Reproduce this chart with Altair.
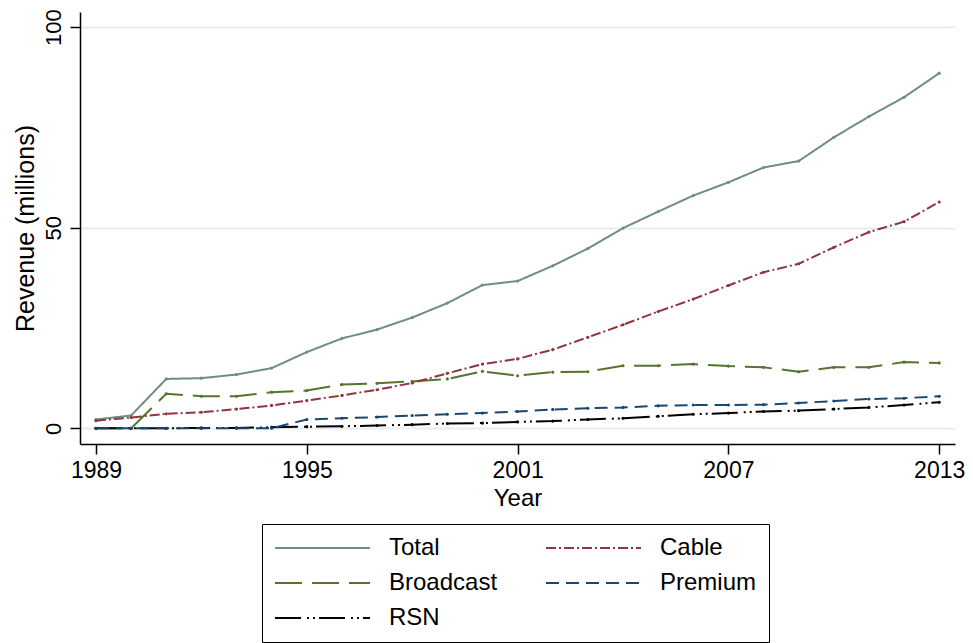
import altair as alt
import pandas as pd

years = list(range(1989, 2014))
total = [2.2, 3.2, 12.3, 12.5, 13.4, 15.0, 19.0, 22.4, 24.6, 27.6, 31.2, 35.7, 36.7,
         40.5, 44.8, 49.9, 54.0, 58.0, 61.3, 65.0, 66.6, 72.5, 77.7, 82.5, 88.5]
cable = [1.9, 2.7, 3.6, 4.0, 4.8, 5.7, 6.9, 8.2, 9.6, 11.3, 13.7, 16.0, 17.3,
         19.6, 22.7, 25.8, 29.1, 32.2, 35.6, 38.9, 41.0, 45.1, 48.9, 51.5, 56.4]
broadcast = [0.0, 0.0, 8.6, 8.0, 8.0, 9.0, 9.4, 10.9, 11.2, 11.7, 12.3, 14.2, 13.1,
             14.0, 14.1, 15.6, 15.6, 16.0, 15.5, 15.2, 14.1, 15.2, 15.2, 16.5, 16.3]
premium = [0.0, 0.0, 0.0, 0.0, 0.0, 0.0, 2.2, 2.5, 2.8, 3.2, 3.5, 3.8, 4.2,
           4.7, 5.0, 5.2, 5.6, 5.8, 5.8, 5.9, 6.3, 6.8, 7.3, 7.5, 8.0]
rsn = [0.0, 0.0, 0.0, 0.1, 0.1, 0.25, 0.4, 0.5, 0.7, 0.9, 1.2, 1.3, 1.6,
       1.8, 2.2, 2.5, 3.0, 3.5, 3.8, 4.2, 4.4, 4.8, 5.2, 5.8, 6.5]

# legend is filled column by column: Total/Broadcast/RSN, then Cable/Premium
series_names = ["Total", "Broadcast", "RSN", "Cable", "Premium"]
series_values = [total, broadcast, rsn, cable, premium]
colors = ["#6e8e84", "#55752f", "#000000", "#90353b", "#1a476f"]
dashes = [[1, 0], [27, 10], [26, 6, 2, 4, 2, 4], [10, 3, 2, 3], [13, 7]]
x_ticks = [1989, 1995, 2001, 2007, 2013]
y_ticks = [0, 50, 100]

rows = []
for name, vals in zip(series_names, series_values):
    for yr, v in zip(years, vals):
        rows.append({"year": yr, "value": v, "series": name})
df = pd.DataFrame(rows)

FONT = "Liberation Sans"

legend = alt.Legend(
    title=None, orient="none", legendX=182, legendY=512,
    columns=2, columnPadding=47, rowPadding=11,
    symbolType="stroke", symbolSize=9025, symbolStrokeWidth=2,
    labelFont=FONT, labelFontSize=24, labelColor="black", labelOffset=18,
    clipHeight=24, padding=12, strokeColor="black", fillColor="white",
)

chart = alt.Chart(df).mark_line(
    strokeWidth=2,
    point=alt.OverlayMarkDef(filled=True, size=10),
).encode(
    x=alt.X("year:Q",
            scale=alt.Scale(domain=[1988.545, 2013.45], nice=False, zero=False),
            axis=alt.Axis(values=x_ticks, format="d", title="Year", grid=False,
                          labelFontSize=23,
                          labelBaseline="alphabetic", labelPadding=23,
                          titleY=61, titleBaseline="alphabetic")),
    y=alt.Y("value:Q",
            scale=alt.Scale(domain=[-3.91, 103.75], nice=False, zero=False),
            axis=alt.Axis(values=y_ticks, title="Revenue (millions)", grid=True,
                          gridColor="#e6edf0", gridWidth=2,
                          labelFontSize=22,
                          labelAngle=270, labelAlign="center",
                          labelBaseline="alphabetic", labelPadding=10,
                          titleAngle=270, titleX=-47, titleBaseline="alphabetic",
                          titleFontSize=25)),
    color=alt.Color("series:N", scale=alt.Scale(domain=series_names, range=colors),
                    legend=legend),
    strokeDash=alt.StrokeDash("series:N",
                              scale=alt.Scale(domain=series_names, range=dashes),
                              legend=legend),
).properties(
    width=875, height=432,
    autosize=alt.AutoSizeParams(type="none"),
    padding={"left": 72, "top": 4, "right": 10, "bottom": 199},
).configure_view(
    stroke=None
).configure_axis(
    domainColor="black", domainWidth=1.5,
    tickColor="black", tickWidth=1.5, tickSize=10,
    labelFont=FONT, labelFontSize=24, labelColor="black",
    titleFont=FONT, titleFontSize=24, titleFontWeight="normal", titleColor="black",
)

chart.save("out.html", embed_options={"renderer": "svg", "actions": False})
